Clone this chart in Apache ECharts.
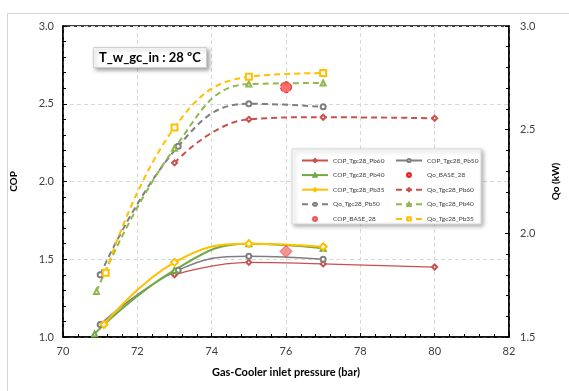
<!DOCTYPE html>
<html>
<head>
<meta charset="utf-8">
<script src="https://cdn.jsdelivr.net/npm/echarts@6/dist/echarts.min.js"></script>
<style>
  html, body { margin: 0; padding: 0; background: #fff; }
  #main { width: 569px; height: 391px; }
</style>
</head>
<body>
<div id="main"></div>
<script>
// [pressure (bar), value]
const copPb60 = [[73, 1.40], [75, 1.48], [77, 1.47], [80, 1.45]];
const copPb50 = [[71.0, 1.08], [73.1, 1.43], [75, 1.52], [77, 1.50]];
const copPb40 = [[70.85, 1.02], [73, 1.43], [75, 1.60], [77, 1.57]];
const copPb35 = [[71.1, 1.08], [73, 1.48], [75, 1.60], [77, 1.58]];
const copBase = [[76, 1.55]];

const qoPb60 = [[73, 2.34], [75, 2.55], [77, 2.56], [80, 2.555]];
const qoPb50 = [[71.0, 1.80], [73.1, 2.42], [75, 2.625], [77, 2.61]];
const qoPb40 = [[70.9, 1.72], [73, 2.41], [75, 2.72], [77, 2.725]];
const qoPb35 = [[71.15, 1.81], [73, 2.51], [75, 2.755], [77, 2.773]];
const qoBase = [[76, 2.705]];

const legendLeft = ['COP_Tgc28_Pb60', 'COP_Tgc28_Pb40', 'COP_Tgc28_Pb35', 'Qo_Tgc28_Pb50', 'COP_BASE_28'];
const legendRight = ['COP_Tgc28_Pb50', 'Qo_BASE_28', 'Qo_Tgc28_Pb60', 'Qo_Tgc28_Pb40', 'Qo_Tgc28_Pb35'];

const FONT = 'Lato';
const RED = '#c9504d';
const GRAY = '#7f7f7f';
const GREEN = '#70a845';
const LGREEN = '#8fb84e';
const YELLOW = '#ffc000';

const solid = (name, data, color, symbol, size, width) => ({
  name, type: 'line', data, yAxisIndex: 0, smooth: 0.45,
  symbol, symbolSize: size,
  lineStyle: { color, width },
  itemStyle: { color, borderWidth: 0.8 },
  z: 3
});
const dashed = (name, data, color, symbol, size) => ({
  name, type: 'line', data, yAxisIndex: 1, smooth: 0.45,
  symbol, symbolSize: size,
  lineStyle: { color, width: 2, type: [6, 4] },
  itemStyle: { color, borderWidth: 0.8 },
  z: 3
});

const legendBase = {
  orient: 'vertical',
  itemWidth: 26,
  itemHeight: 4,
  itemGap: 5.6,
  selectedMode: false,
  textStyle: { fontFamily: FONT, fontSize: 6.5, color: '#404040', lineHeight: 9 },
  z: 6
};

const chart = echarts.init(document.getElementById('main'));
chart.setOption({
  animation: false,
  backgroundColor: '#fff',
  textStyle: { fontFamily: FONT },
  title: {
    text: 'T_w_gc_in : 28 ºC',
    left: 93,
    top: 47,
    padding: [4, 6],
    backgroundColor: '#fff',
    borderColor: '#d0d0d0',
    borderWidth: 1,
    shadowBlur: 4,
    shadowOffsetX: 2,
    shadowOffsetY: 2,
    shadowColor: 'rgba(0,0,0,0.35)',
    textStyle: { fontFamily: FONT, fontSize: 13, fontWeight: 'bold', color: '#000' }
  },
  graphic: [
    {
      type: 'rect', z: -10, silent: true,
      shape: { x: 7.5, y: 13.5, width: 700, height: 500 },
      style: { fill: 'none', stroke: '#d4d4d4', lineWidth: 1 }
    },
    {
      type: 'rect', z: 5, silent: true,
      shape: { x: 292, y: 149, width: 189, height: 75 },
      style: {
        fill: '#fff', stroke: '#d9d9d9', lineWidth: 1,
        shadowBlur: 4, shadowOffsetX: 2, shadowOffsetY: 2, shadowColor: 'rgba(0,0,0,0.3)'
      }
    }
  ],
  legend: [
    Object.assign({}, legendBase, {
      left: 296, top: 151,
      data: legendLeft.map(n => n === 'COP_BASE_28' ? { name: n, icon: 'circle' } : { name: n })
    }),
    Object.assign({}, legendBase, {
      left: 390, top: 151,
      data: legendRight.map(n => n === 'Qo_BASE_28' ? { name: n, icon: 'circle' } : { name: n })
    })
  ],
  grid: {
    left: 63, right: 60, top: 26, bottom: 54,
    show: true, borderColor: '#000', borderWidth: 1.5
  },
  xAxis: {
    type: 'value', min: 70, max: 82, interval: 2,
    name: 'Gas-Cooler inlet pressure (bar)',
    nameLocation: 'middle', nameGap: 30,
    nameTextStyle: { fontFamily: FONT, fontSize: 11, fontWeight: 'bold', color: '#000' },
    axisLine: { lineStyle: { color: '#000', width: 1.5 } },
    axisTick: { inside: true, length: 4, lineStyle: { color: '#000' } },
    minorTick: { show: true, splitNumber: 5, length: 3, lineStyle: { color: '#000' } },
    axisLabel: { fontFamily: FONT, fontSize: 11, color: '#404040', margin: 9 },
    splitLine: { show: true, lineStyle: { color: '#d9d9d9', type: [4, 3] } }
  },
  yAxis: [
    {
      type: 'value', min: 1, max: 3, interval: 0.5,
      name: 'COP', nameLocation: 'middle', nameGap: 44,
      nameTextStyle: { fontFamily: FONT, fontSize: 10, fontWeight: 'bold', color: '#000' },
      axisLine: { show: true, lineStyle: { color: '#000', width: 1.5 } },
      axisTick: { show: true, inside: true, length: 4, lineStyle: { color: '#000' } },
      minorTick: { show: true, splitNumber: 5, length: 3, lineStyle: { color: '#000' } },
      axisLabel: { fontFamily: FONT, fontSize: 11, color: '#404040', margin: 9, formatter: v => v.toFixed(1) },
      splitLine: { show: true, lineStyle: { color: '#d9d9d9', type: [4, 3] } }
    },
    {
      type: 'value', min: 1.5, max: 3, interval: 0.5, position: 'right',
      name: 'Qo (kW)', nameLocation: 'middle', nameGap: 42,
      nameTextStyle: { fontFamily: FONT, fontSize: 10, fontWeight: 'bold', color: '#000' },
      axisLine: { show: true, lineStyle: { color: '#000', width: 1.5 } },
      axisTick: { show: true, inside: true, length: 4, lineStyle: { color: '#000' } },
      minorTick: { show: true, splitNumber: 5, length: 3, lineStyle: { color: '#000' } },
      axisLabel: { fontFamily: FONT, fontSize: 11, color: '#404040', margin: 11, formatter: v => v.toFixed(1) },
      splitLine: { show: false }
    }
  ],
  series: [
    solid('COP_Tgc28_Pb60', copPb60, RED, 'emptyDiamond', 5, 1.3),
    solid('COP_Tgc28_Pb50', copPb50, GRAY, 'emptyCircle', 5, 1.5),
    solid('COP_Tgc28_Pb40', copPb40, GREEN, 'emptyTriangle', 5, 2),
    solid('COP_Tgc28_Pb35', copPb35, YELLOW, 'emptyDiamond', 7, 2),
    dashed('Qo_Tgc28_Pb60', qoPb60, RED, 'emptyDiamond', 5),
    dashed('Qo_Tgc28_Pb50', qoPb50, GRAY, 'emptyCircle', 5),
    dashed('Qo_Tgc28_Pb40', qoPb40, LGREEN, 'emptyTriangle', 5),
    dashed('Qo_Tgc28_Pb35', qoPb35, YELLOW, 'emptyRect', 6),
    {
      name: 'COP_BASE_28', type: 'scatter', yAxisIndex: 0, data: copBase,
      symbol: 'diamond', symbolSize: 12,
      itemStyle: { color: '#f47a7a', borderColor: '#e23b3b', borderWidth: 1 },
      z: 4
    },
    {
      name: 'Qo_BASE_28', type: 'scatter', yAxisIndex: 1, data: qoBase,
      symbol: 'circle', symbolSize: 11,
      itemStyle: { color: '#ff4a4a', borderColor: '#e00000', borderWidth: 1, borderType: 'dashed' },
      z: 4
    }
  ]
});
</script>
</body>
</html>
